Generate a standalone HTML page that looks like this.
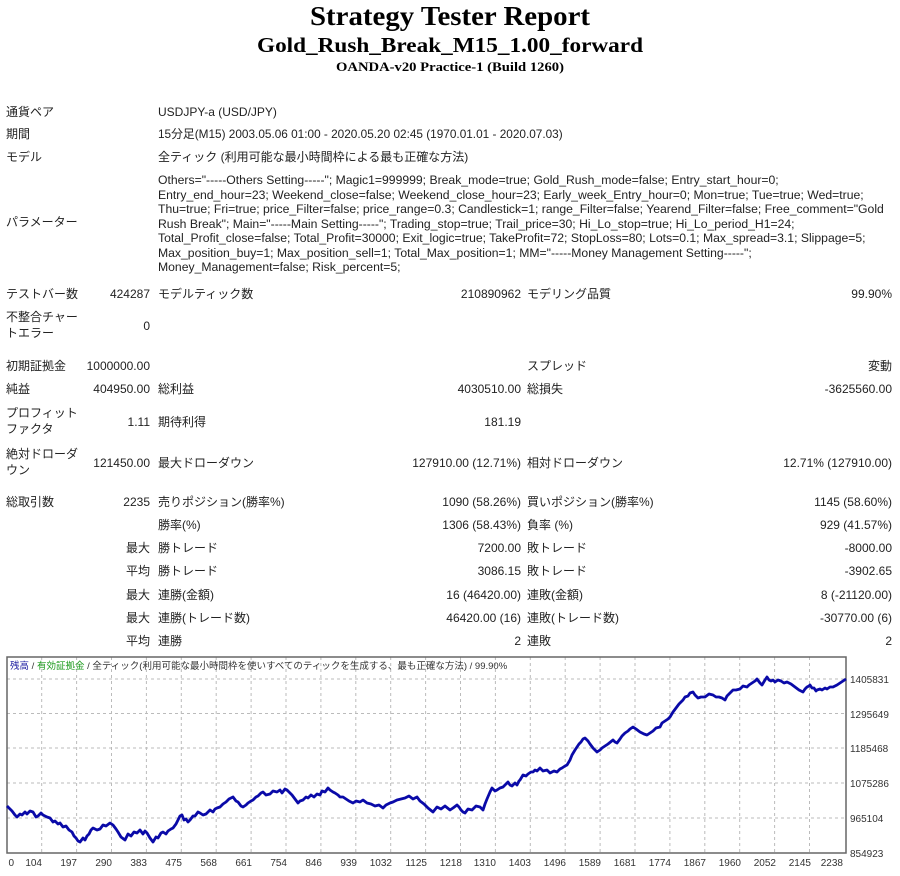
<!DOCTYPE html>
<html><head><meta charset="utf-8"><style>
body{margin:0;width:900px;height:876px;background:#fff;position:relative;overflow:hidden;font-family:"Liberation Sans","Noto Sans CJK JP",sans-serif;font-size:12px;color:#222}
.t{position:absolute;white-space:nowrap;line-height:14px}
.r{position:absolute;white-space:nowrap;line-height:14px;text-align:right}
</style></head><body>
<svg style="position:absolute;left:0;top:0" width="900" height="80">
<text x="450" y="25" text-anchor="middle" font-family="Liberation Serif" font-weight="bold" font-size="27" textLength="280" lengthAdjust="spacingAndGlyphs" fill="#000">Strategy Tester Report</text>
<text x="450" y="52" text-anchor="middle" font-family="Liberation Serif" font-weight="bold" font-size="21" textLength="386" lengthAdjust="spacingAndGlyphs" fill="#000">Gold_Rush_Break_M15_1.00_forward</text>
<text x="450" y="71" text-anchor="middle" font-family="Liberation Serif" font-weight="bold" font-size="13" textLength="228" lengthAdjust="spacingAndGlyphs" fill="#000">OANDA-v20 Practice-1 (Build 1260)</text>
</svg>
<div class="t" style="left:6px;top:105px">通貨ペア</div><div class="t" style="left:158px;top:105px">USDJPY-a (USD/JPY)</div>
<div class="t" style="left:6px;top:127px">期間</div><div class="t" style="left:158px;top:127px;font-size:11.8px">15分足(M15) 2003.05.06 01:00 - 2020.05.20 02:45 (1970.01.01 - 2020.07.03)</div>
<div class="t" style="left:6px;top:150px">モデル</div><div class="t" style="left:158px;top:150px">全ティック (利用可能な最小時間枠による最も正確な方法)</div>
<div class="t" style="left:6px;top:215px">パラメーター</div>
<div class="t" style="left:158px;top:173px;line-height:14.5px;font-size:12.2px">Others="-----Others Setting-----"; Magic1=999999; Break_mode=true; Gold_Rush_mode=false; Entry_start_hour=0;<br>Entry_end_hour=23; Weekend_close=false; Weekend_close_hour=23; Early_week_Entry_hour=0; Mon=true; Tue=true; Wed=true;<br>Thu=true; Fri=true; price_Filter=false; price_range=0.3; Candlestick=1; range_Filter=false; Yearend_Filter=false; Free_comment="Gold<br>Rush Break"; Main="-----Main Setting-----"; Trading_stop=true; Trail_price=30; Hi_Lo_stop=true; Hi_Lo_period_H1=24;<br>Total_Profit_close=false; Total_Profit=30000; Exit_logic=true; TakeProfit=72; StopLoss=80; Lots=0.1; Max_spread=3.1; Slippage=5;<br>Max_position_buy=1; Max_position_sell=1; Total_Max_position=1; MM="-----Money Management Setting-----";<br>Money_Management=false; Risk_percent=5;</div>

<div class="t" style="left:6px;top:287px">テストバー数</div><div class="r" style="right:750px;top:287px">424287</div>
<div class="t" style="left:158px;top:287px">モデルティック数</div><div class="r" style="right:379px;top:287px">210890962</div>
<div class="t" style="left:527px;top:287px">モデリング品質</div><div class="r" style="right:8px;top:287px">99.90%</div>

<div class="t" style="left:6px;top:309px;line-height:16px">不整合チャー<br>トエラー</div><div class="r" style="right:750px;top:319px">0</div>

<div class="t" style="left:6px;top:359px">初期証拠金</div><div class="r" style="right:750px;top:359px">1000000.00</div>
<div class="t" style="left:527px;top:359px">スプレッド</div><div class="r" style="right:8px;top:359px">変動</div>

<div class="t" style="left:6px;top:382px">純益</div><div class="r" style="right:750px;top:382px">404950.00</div>
<div class="t" style="left:158px;top:382px">総利益</div><div class="r" style="right:379px;top:382px">4030510.00</div>
<div class="t" style="left:527px;top:382px">総損失</div><div class="r" style="right:8px;top:382px">-3625560.00</div>

<div class="t" style="left:6px;top:405px;line-height:16px">プロフィット<br>ファクタ</div><div class="r" style="right:750px;top:415px">1.11</div>
<div class="t" style="left:158px;top:415px">期待利得</div><div class="r" style="right:379px;top:415px">181.19</div>

<div class="t" style="left:6px;top:446px;line-height:16px">絶対ドローダ<br>ウン</div><div class="r" style="right:750px;top:456px">121450.00</div>
<div class="t" style="left:158px;top:456px">最大ドローダウン</div><div class="r" style="right:379px;top:456px">127910.00 (12.71%)</div>
<div class="t" style="left:527px;top:456px">相対ドローダウン</div><div class="r" style="right:8px;top:456px">12.71% (127910.00)</div>

<div class="t" style="left:6px;top:495px">総取引数</div><div class="r" style="right:750px;top:495px">2235</div>
<div class="t" style="left:158px;top:495px">売りポジション(勝率%)</div><div class="r" style="right:379px;top:495px">1090 (58.26%)</div>
<div class="t" style="left:527px;top:495px">買いポジション(勝率%)</div><div class="r" style="right:8px;top:495px">1145 (58.60%)</div>

<div class="t" style="left:158px;top:518px">勝率(%)</div><div class="r" style="right:379px;top:518px">1306 (58.43%)</div>
<div class="t" style="left:527px;top:518px">負率 (%)</div><div class="r" style="right:8px;top:518px">929 (41.57%)</div>

<div class="r" style="right:750px;top:541px">最大</div><div class="t" style="left:158px;top:541px">勝トレード</div><div class="r" style="right:379px;top:541px">7200.00</div>
<div class="t" style="left:527px;top:541px">敗トレード</div><div class="r" style="right:8px;top:541px">-8000.00</div>

<div class="r" style="right:750px;top:564px">平均</div><div class="t" style="left:158px;top:564px">勝トレード</div><div class="r" style="right:379px;top:564px">3086.15</div>
<div class="t" style="left:527px;top:564px">敗トレード</div><div class="r" style="right:8px;top:564px">-3902.65</div>

<div class="r" style="right:750px;top:588px">最大</div><div class="t" style="left:158px;top:588px">連勝(金額)</div><div class="r" style="right:379px;top:588px">16 (46420.00)</div>
<div class="t" style="left:527px;top:588px">連敗(金額)</div><div class="r" style="right:8px;top:588px">8 (-21120.00)</div>

<div class="r" style="right:750px;top:611px">最大</div><div class="t" style="left:158px;top:611px">連勝(トレード数)</div><div class="r" style="right:379px;top:611px">46420.00 (16)</div>
<div class="t" style="left:527px;top:611px">連敗(トレード数)</div><div class="r" style="right:8px;top:611px">-30770.00 (6)</div>

<div class="r" style="right:750px;top:634px">平均</div><div class="t" style="left:158px;top:634px">連勝</div><div class="r" style="right:379px;top:634px">2</div>
<div class="t" style="left:527px;top:634px">連敗</div><div class="r" style="right:8px;top:634px">2</div>

<svg style="position:absolute;left:0;top:650px" width="900" height="226" viewBox="0 650 900 226" font-family="Liberation Sans,Noto Sans CJK JP,sans-serif" font-size="10">
<g stroke="#bbb" stroke-dasharray="3,3" stroke-width="1">
<line x1="7" x2="846" y1="679" y2="679"/><line x1="7" x2="846" y1="713.5" y2="713.5"/><line x1="7" x2="846" y1="748" y2="748"/><line x1="7" x2="846" y1="783" y2="783"/><line x1="7" x2="846" y1="818" y2="818"/>
<line x1="41.7" x2="41.7" y1="657" y2="853"/><line x1="76.6" x2="76.6" y1="657" y2="853"/><line x1="111.5" x2="111.5" y1="657" y2="853"/><line x1="146.4" x2="146.4" y1="657" y2="853"/><line x1="181.3" x2="181.3" y1="657" y2="853"/><line x1="216.2" x2="216.2" y1="657" y2="853"/><line x1="251.1" x2="251.1" y1="657" y2="853"/><line x1="286" x2="286" y1="657" y2="853"/><line x1="320.9" x2="320.9" y1="657" y2="853"/><line x1="355.8" x2="355.8" y1="657" y2="853"/><line x1="390.7" x2="390.7" y1="657" y2="853"/><line x1="425.6" x2="425.6" y1="657" y2="853"/><line x1="460.5" x2="460.5" y1="657" y2="853"/><line x1="495.4" x2="495.4" y1="657" y2="853"/><line x1="530.3" x2="530.3" y1="657" y2="853"/><line x1="565.2" x2="565.2" y1="657" y2="853"/><line x1="600.1" x2="600.1" y1="657" y2="853"/><line x1="635" x2="635" y1="657" y2="853"/><line x1="669.9" x2="669.9" y1="657" y2="853"/><line x1="704.8" x2="704.8" y1="657" y2="853"/><line x1="739.7" x2="739.7" y1="657" y2="853"/><line x1="774.6" x2="774.6" y1="657" y2="853"/><line x1="809.5" x2="809.5" y1="657" y2="853"/>
</g>
<rect x="7" y="657" width="839" height="196" fill="none" stroke="#666" stroke-width="1.5"/>
<polyline fill="none" stroke="#0a0aa8" stroke-width="2.8" stroke-linejoin="round" points="7,806 10,809 12,811 15,815 17,817 20,814 22,815 25,812 27,814 30,811 33,812 36,817 38,816 41,813 43,815 47,817 50,818 53,822 55,821 58,824 60,823 63,827 66,826 69,830 72,832 74,836 76,838 78,841 80,842 83,838 85,840 87,836 89,834 91,830 93,828 97,830 100,829 103,825 106,826 110,823 113,825 116,829 118,832 121,837 125,840 128,834 131,836 134,832 137,833 140,830 143,834 145,831 147,833 150,838 153,842 156,837 158,838 161,833 163,832 166,834 168,831 171,829 173,828 176,824 178,820 180,816 182,815 184,820 186,819 188,822 190,820 193,816 195,816 198,812 200,813 203,815 206,814 210,810 213,812 215,809 217,808 220,807 223,804 226,802 229,799 233,797 236,801 238,802 241,806 243,807 246,805 248,803 251,801 253,800 256,797 258,796 261,793 263,792 266,795 270,794 273,791 277,792 280,790 282,793 285,789 287,790 290,793 292,795 295,799 298,803 300,801 303,800 306,797 308,798 311,795 314,797 317,794 320,795 322,791 325,792 328,788 330,790 333,792 335,793 338,795 340,797 343,797 346,799 349,801 353,803 356,801 360,802 363,800 367,803 371,804 375,806 379,805 383,808 386,805 390,803 393,802 397,800 401,799 405,798 409,796 413,799 417,797 420,801 424,804 428,808 433,812 437,807 441,809 445,806 450,810 453,808 457,805 459,807 461,810 463,812 465,813 468,809 472,810 476,806 480,807 482,809 483,810 485,804 487,799 490,792 492,788 495,791 497,790 500,788 503,787 506,784 508,782 510,785 512,786 515,783 517,785 519,781 520,780 523,775 526,776 528,774 531,772 533,772 535,770 537,771 540,768 543,771 547,770 550,773 554,771 557,772 560,769 562,768 565,766 567,765 570,760 572,755 575,750 577,747 579,744 581,742 583,739 585,738 588,741 590,744 593,748 597,752 600,750 602,748 605,746 608,744 613,740 615,742 617,743 620,739 622,736 625,733 628,731 630,729 633,727 636,729 640,732 644,734 647,735 650,733 653,731 656,728 660,727 662,723 665,721 668,719 670,717 673,712 676,708 679,704 683,700 685,697 688,696 690,693 693,692 695,695 698,698 701,697 705,697 709,694 713,695 716,697 719,697 722,698 725,700 727,696 729,694 731,692 733,690 736,690 740,689 743,686 747,687 749,685 752,683 755,681 757,679 760,683 762,685 765,680 767,677 769,680 771,681 773,680 775,682 778,680 781,681 784,683 787,682 791,684 795,687 799,690 803,692 805,689 807,687 809,686 810,685 812,688 814,688 816,691 817,690 820,689 822,690 825,688 827,689 830,687 833,687 837,685 840,683 843,681 846,679"/>
<text x="10" y="669" font-size="9.5"><tspan fill="#1a1aa0">残高</tspan><tspan fill="#333"> / </tspan><tspan fill="#1a9a1a">有効証拠金</tspan><tspan fill="#333"> / 全ティック(利用可能な最小時間枠を使いすべてのティックを生成する、最も正確な方法) / 99.90%</tspan></text>
<g fill="#333" text-anchor="start">
<text x="850" y="683">1405831</text><text x="850" y="718">1295649</text><text x="850" y="752">1185468</text><text x="850" y="787">1075286</text><text x="850" y="822">965104</text><text x="850" y="857">854923</text>
</g>
<g fill="#333" text-anchor="end">
<text x="14" y="866">0</text><text x="42" y="866">104</text><text x="77" y="866">197</text><text x="112" y="866">290</text><text x="147" y="866">383</text><text x="182" y="866">475</text><text x="217" y="866">568</text><text x="252" y="866">661</text><text x="287" y="866">754</text><text x="322" y="866">846</text><text x="357" y="866">939</text><text x="392" y="866">1032</text><text x="427" y="866">1125</text><text x="462" y="866">1218</text><text x="496" y="866">1310</text><text x="531" y="866">1403</text><text x="566" y="866">1496</text><text x="601" y="866">1589</text><text x="636" y="866">1681</text><text x="671" y="866">1774</text><text x="706" y="866">1867</text><text x="741" y="866">1960</text><text x="776" y="866">2052</text><text x="811" y="866">2145</text><text x="843" y="866">2238</text>
</g>
</svg>
</body></html>
